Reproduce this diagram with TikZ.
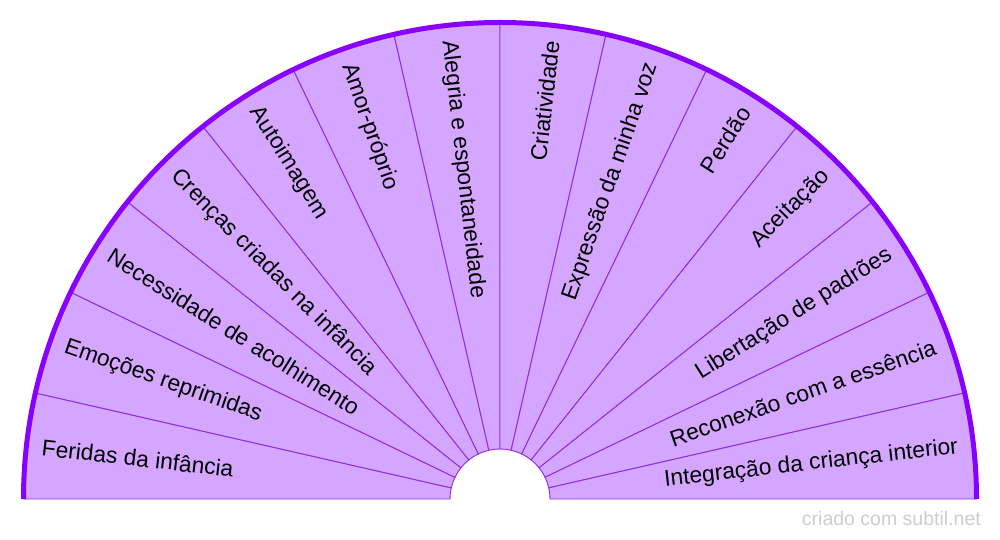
\documentclass[tikz,border=0pt]{standalone}
\usepackage{fontspec}
\setmainfont{Liberation Sans}
\definecolor{petal}{RGB}{212,166,255}
\definecolor{spoke}{RGB}{140,40,235}
\definecolor{rim}{RGB}{136,0,255}
\definecolor{mark}{RGB}{205,205,205}

\begin{document}
\begin{tikzpicture}[x=1pt,y=1pt]
    \tikzset{sector/.style = {fill=petal, draw=spoke, line width=0.9pt}}
    \tikzset{rimline/.style = {draw=rim, line width=5pt}}
    \tikzset{leaf/.style = {font=\fontsize{22.8}{27}\selectfont, text=black, inner sep=0pt}}

    \useasboundingbox (0,0) rectangle (1000,540);
    \coordinate (o) at (500,41);

    % sectors
    \begin{scope}[shift={(o)}]
    \foreach \i in {0,...,13} {
        \pgfmathsetmacro\a{180-\i*180/14}
        \pgfmathsetmacro\b{180-(\i+1)*180/14}
        \draw[sector] (\a:50) -- (\a:476.5) arc[start angle=\a, end angle=\b, radius=476.5]
            -- (\b:50) arc[start angle=\b, end angle=\a, radius=50] -- cycle;
    }
    \draw[rimline] (180:476.5) arc[start angle=180, end angle=0, radius=476.5];

    % labels
    \foreach \txt [count=\i] in {Feridas da infância, Emoções reprimidas,
        Necessidade de acolhimento, Crenças criadas na infância, Autoimagem,
        Amor-próprio, Alegria e espontaneidade, Criatividade,
        Expressão da minha voz, Perdão, Aceitação, Libertação de padrões,
        Reconexão com a essência, Integração da criança interior} {
        \pgfmathsetmacro\m{180-(\i-0.5)*180/14}
        \ifdim\m pt>90pt
            \node[leaf, anchor=west, rotate=\m-180] (l\i) at (\m:461) {\txt};
        \else
            \node[leaf, anchor=east, rotate=\m] (l\i) at (\m:461) {\txt};
        \fi
    }
    \end{scope}

    \node[anchor=east, text=mark, font=\fontsize{19.5}{23}\selectfont, inner sep=0pt] (credit) at (981,21) {criado com subtil.net};
\end{tikzpicture}
\end{document}
